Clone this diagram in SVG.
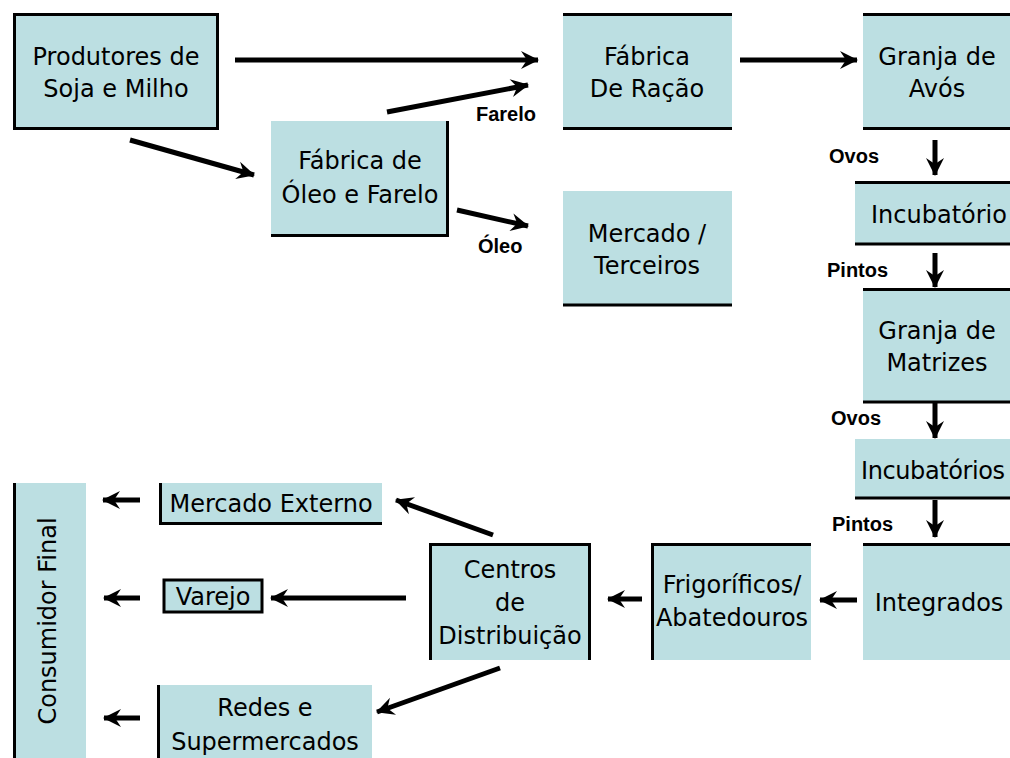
<svg xmlns="http://www.w3.org/2000/svg" width="1010" height="758" viewBox="0 0 1010 758">
<style>
.box{fill:#bcdfe2;}
.bd{stroke:#000;stroke-width:3;fill:none;}
.t{font-family:"DejaVu Sans",sans-serif;font-size:24px;fill:#000;text-anchor:middle;}
.lb{font-family:"Liberation Sans",Arial,sans-serif;font-size:20px;font-weight:bold;fill:#000;}
.c{stroke:#000;stroke-width:5;fill:none;marker-end:url(#ah);}
</style>
<defs>
<marker id="ah" viewBox="0 0 20 20" refX="18" refY="10" markerWidth="20" markerHeight="20" markerUnits="userSpaceOnUse" orient="auto">
<path d="M1,1 L19,10 L1,19 L7,10 z" fill="#000"/>
</marker>
</defs>
<rect width="1010" height="758" fill="#fff"/>

<g id="produtores">
<rect class="box" x="13" y="13" width="206" height="117"/>
<rect class="bd" x="14.5" y="14.5" width="203" height="114"/>
<text class="t" x="116" y="65">Produtores de</text>
<text class="t" x="116" y="97">Soja e Milho</text>
</g>

<g id="fabrica-oleo">
<rect class="box" x="271" y="121" width="178" height="116"/>
<path class="bd" d="M447.5,121 V235.5 H271"/>
<text class="t" x="360" y="169">Fábrica de</text>
<text class="t" x="360" y="203">Óleo e Farelo</text>
</g>

<g id="fabrica-racao">
<rect class="box" x="563" y="13" width="169" height="117"/>
<path class="bd" d="M563,14.5 H732 M563,128.5 H732"/>
<text class="t" x="647" y="65">Fábrica</text>
<text class="t" x="647" y="97">De Ração</text>
</g>

<g id="granja-avos">
<rect class="box" x="863" y="13" width="147" height="117"/>
<path class="bd" d="M863,14.5 H1010 M863,128.5 H1010"/>
<text class="t" x="937" y="65">Granja de</text>
<text class="t" x="937" y="97">Avós</text>
</g>

<g id="mercado-terceiros">
<rect class="box" x="563" y="191" width="169" height="115"/>
<path class="bd" d="M563,305 H732"/>
<text class="t" x="647" y="242">Mercado /</text>
<text class="t" x="647" y="274">Terceiros</text>
</g>

<g id="incubatorio">
<rect class="box" x="855" y="181" width="155" height="64"/>
<path class="bd" d="M855,182.5 H1010 M855,244 H1010"/>
<text class="t" x="939" y="223">Incubatório</text>
</g>

<g id="granja-matrizes">
<rect class="box" x="863" y="288" width="147" height="115"/>
<path class="bd" d="M863,289.5 H1010 M863,402 H1010"/>
<text class="t" x="937" y="339">Granja de</text>
<text class="t" x="937" y="371">Matrizes</text>
</g>

<g id="incubatorios">
<rect class="box" x="855" y="439" width="155" height="60"/>
<path class="bd" d="M855,498 H1010"/>
<text class="t" x="861" y="479" style="text-anchor:start;letter-spacing:-0.4px">Incubatórios</text>
</g>

<g id="integrados">
<rect class="box" x="863" y="543" width="147" height="117"/>
<path class="bd" d="M863,544.5 H1010"/>
<text class="t" x="939" y="611">Integrados</text>
</g>

<g id="frigorificos">
<rect class="box" x="651" y="543" width="160" height="117"/>
<path class="bd" d="M652.5,660 V544.5 H811"/>
<text class="t" x="732" y="593">Frigoríficos/</text>
<text class="t" x="732" y="626">Abatedouros</text>
</g>

<g id="centros">
<rect class="box" x="429" y="543" width="162" height="117"/>
<path class="bd" d="M430.5,660 V544.5 H589.5 V660"/>
<text class="t" x="510" y="578">Centros</text>
<text class="t" x="510" y="611">de</text>
<text class="t" x="510" y="644">Distribuição</text>
</g>

<g id="mercado-externo">
<rect class="box" x="159" y="483" width="223" height="42"/>
<path class="bd" d="M160.5,483 V523.5 H382"/>
<text class="t" x="271" y="512">Mercado Externo</text>
</g>

<g id="varejo">
<rect class="box" x="163" y="579" width="100" height="34"/>
<rect class="bd" x="164" y="580" width="98" height="32"/>
<text class="t" x="213" y="605">Varejo</text>
</g>

<g id="redes">
<rect class="box" x="157" y="685" width="215" height="73"/>
<path class="bd" d="M158.5,685 V758"/>
<text class="t" x="265" y="716">Redes e</text>
<text class="t" x="265" y="750">Supermercados</text>
</g>

<g id="consumidor">
<rect class="box" x="13" y="483" width="73" height="275"/>
<path class="bd" d="M14.5,483 V758"/>
<text class="t" transform="translate(56,621) rotate(-90)">Consumidor Final</text>
</g>

<g id="connectors">
<line class="c" x1="235" y1="60" x2="538" y2="60"/>
<line class="c" x1="387" y1="112" x2="528" y2="85"/>
<line class="c" x1="130" y1="140" x2="254" y2="175"/>
<line class="c" x1="457" y1="210" x2="528" y2="226"/>
<line class="c" x1="740" y1="60" x2="857" y2="60"/>
<line class="c" x1="935" y1="140" x2="935" y2="175"/>
<line class="c" x1="935" y1="253" x2="935" y2="287"/>
<line class="c" x1="935" y1="403" x2="935" y2="438"/>
<line class="c" x1="935" y1="500" x2="935" y2="537"/>
<line class="c" x1="857" y1="600" x2="820" y2="600"/>
<line class="c" x1="642" y1="599" x2="608" y2="599"/>
<line class="c" x1="493" y1="535" x2="396" y2="500"/>
<line class="c" x1="406" y1="598" x2="271" y2="598"/>
<line class="c" x1="500" y1="668" x2="377" y2="712"/>
<line class="c" x1="140" y1="500" x2="103" y2="500"/>
<line class="c" x1="140" y1="598" x2="104" y2="598"/>
<line class="c" x1="140" y1="718" x2="104" y2="718"/>
</g>

<g id="labels">
<text class="lb" x="476" y="121">Farelo</text>
<text class="lb" x="478" y="253">Óleo</text>
<text class="lb" x="829" y="163">Ovos</text>
<text class="lb" x="827" y="277">Pintos</text>
<text class="lb" x="831" y="425">Ovos</text>
<text class="lb" x="832" y="531">Pintos</text>
</g>
</svg>
